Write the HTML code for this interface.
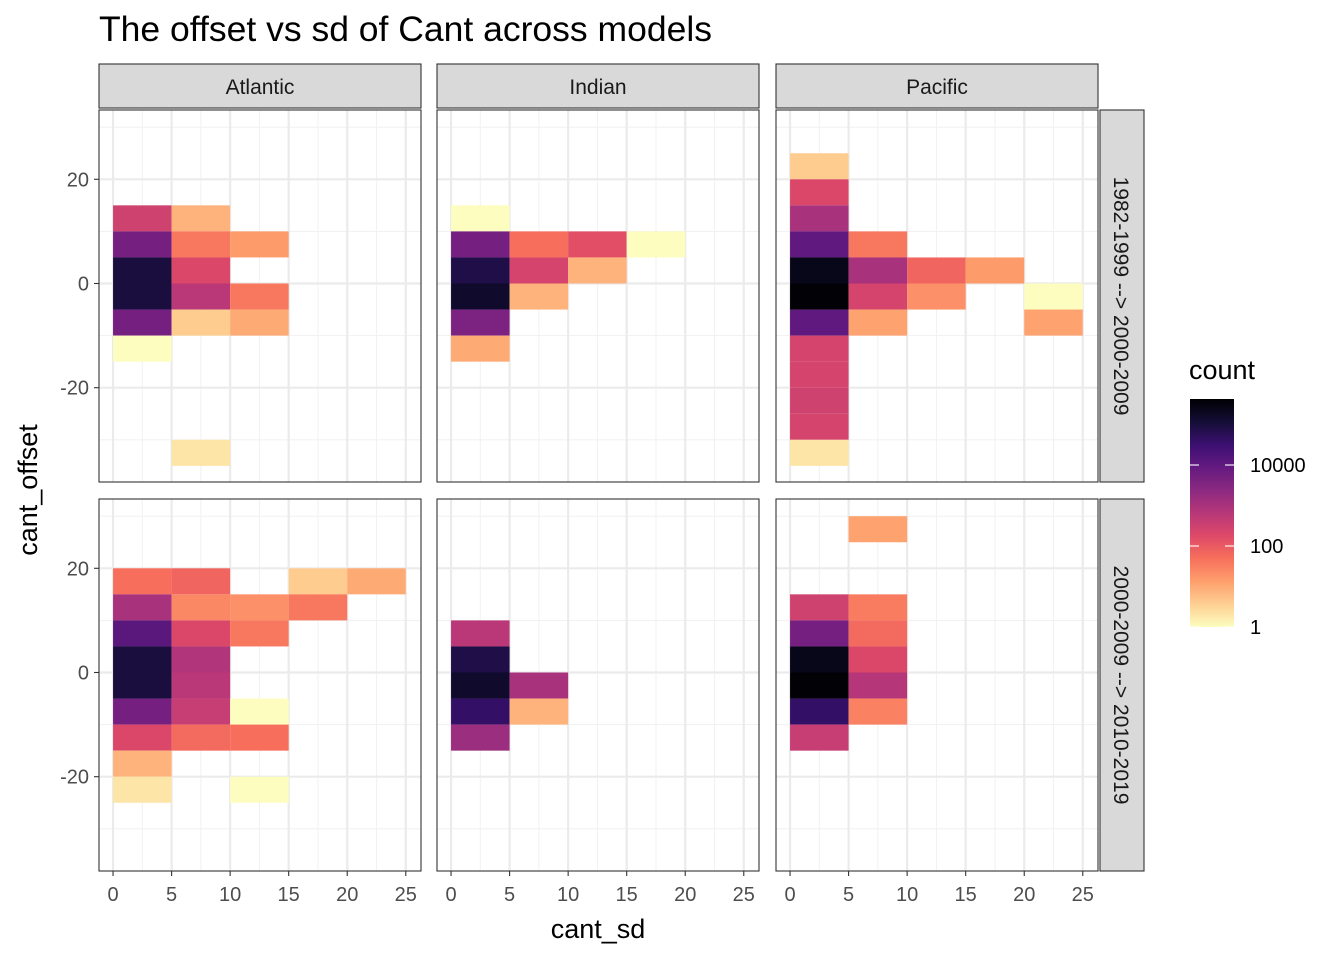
<!DOCTYPE html>
<html><head><meta charset="utf-8"><style>
body{margin:0;background:#fff;font-family:"Liberation Sans",sans-serif}
</style></head><body>
<svg id="c" width="1344" height="960" xmlns="http://www.w3.org/2000/svg" font-family="Liberation Sans, sans-serif"></svg>
<script>
const columns=["Atlantic","Indian","Pacific"];
const rowsLab=["1982-1999 --> 2000-2009","2000-2009 --> 2010-2019"];
const xTicks=[0,5,10,15,20,25];
const yTicks=[-20,0,20];
const legendTicks=[1,100,10000];
const tileCol=[0,0,0,0,0,0, 0,0,0,0,0, 0,0,0, 0,
 1,1,1,1,1,1, 1,1,1, 1,1, 1,
 2,2,2,2,2,2,2,2,2,2,2,2, 2,2,2,2, 2,2, 2, 2,2,
 0,0,0,0,0,0,0,0,0, 0,0,0,0,0,0,0, 0,0,0,0,0, 0,0, 0,
 1,1,1,1,1, 1,1,
 2,2,2,2,2,2, 2,2,2,2,2,2];
const tileRow=[0,0,0,0,0,0, 0,0,0,0,0, 0,0,0, 0,
 0,0,0,0,0,0, 0,0,0, 0,0, 0,
 0,0,0,0,0,0,0,0,0,0,0,0, 0,0,0,0, 0,0, 0, 0,0,
 1,1,1,1,1,1,1,1,1, 1,1,1,1,1,1,1, 1,1,1,1,1, 1,1, 1,
 1,1,1,1,1, 1,1,
 1,1,1,1,1,1, 1,1,1,1,1,1];
const tileSd=[0,0,0,0,0,0, 5,5,5,5,5, 10,10,10, 5,
 0,0,0,0,0,0, 5,5,5, 10,10, 15,
 0,0,0,0,0,0,0,0,0,0,0,0, 5,5,5,5, 10,10, 15, 20,20,
 0,0,0,0,0,0,0,0,0, 5,5,5,5,5,5,5, 10,10,10,10,10, 15,15, 20,
 0,0,0,0,0, 5,5,
 0,0,0,0,0,0, 5,5,5,5,5,5];
const tileOff=[10,5,0,-5,-10,-15, 10,5,0,-5,-10, 5,-5,-10, -35,
 10,5,0,-5,-10,-15, 5,0,-5, 5,0, 5,
 20,15,10,5,0,-5,-10,-15,-20,-25,-30,-35, 5,0,-5,-10, 0,-5, 0, -5,-10,
 15,10,5,0,-5,-10,-15,-20,-25, 15,10,5,0,-5,-10,-15, 10,5,-10,-15,-25, 15,10, 15,
 5,0,-5,-10,-15, -5,-10,
 10,5,0,-5,-10,-15, 25,10,5,0,-5,-10];
const tileCount=[300,5000,100000,100000,5000,1, 8,40,200,600,4, 15,40,10, 2,
 1,5000,80000,150000,4000,10, 50,250,8, 150,8, 1,
 4,200,1000,10000,250000,400000,10000,250,250,300,250,2, 40,1000,250,12, 70,20, 15, 1,12,
 50,1000,12000,100000,100000,5000,200,8,2, 70,25,200,800,600,400,60, 20,40,1,50,1, 4,40, 10,
 600,80000,150000,40000,1500, 1000,8,
 300,5000,250000,400000,40000,400, 12,35,60,200,700,30];
const maxLog=5.63;
const stops=["#000004","#140E36","#3B0F70","#641A80","#8C2981","#B73779","#DE4968","#F7705C","#FE9F6D","#FECF92","#FCFDBF"];
function hex(h){return [1,3,5].map(i=>parseInt(h.substr(i,2),16))}
function color(c){let t=1-Math.log10(c)/maxLog;t=Math.max(0,Math.min(1,t));const p=t*10,i=Math.min(9,Math.floor(p)),f=p-i;const a=hex(stops[i]),b=hex(stops[i+1]);return "rgb("+a.map((v,k)=>Math.round(v+(b[k]-v)*f)).join(",")+")"}
const svg=document.getElementById('c');const NS="http://www.w3.org/2000/svg";
function el(tag,attrs,parent,text){const e=document.createElementNS(NS,tag);for(const k in attrs)e.setAttribute(k,attrs[k]);if(text!==undefined)e.textContent=text;(parent||svg).appendChild(e);return e}
const colX=[99,437,776],pw=322,rowY=[110,499],ph=372;
const xMin=-1.2,xMax=26.3,yMin=-38.1,yMax=33.3;
function sx(c,v){return colX[c]+(v-xMin)/(xMax-xMin)*pw}
function sy(r,v){return rowY[r]+(yMax-v)/(yMax-yMin)*ph}
let t=el('text',{x:99,y:41,'font-size':35.5,fill:'#000'},svg,"The offset vs sd of Cant across models");

for(let c=0;c<3;c++)for(let r=0;r<2;r++){
 const g=el('g',{});
 el('rect',{x:colX[c],y:rowY[r],width:pw,height:ph,fill:'#fff'},g);
 for(let v=-30;v<=30;v+=10){if(v%20==0)continue;el('line',{x1:colX[c],x2:colX[c]+pw,y1:sy(r,v),y2:sy(r,v),stroke:'#F2F2F2','stroke-width':1.1},g)}
 for(let v=2.5;v<26;v+=5)el('line',{y1:rowY[r],y2:rowY[r]+ph,x1:sx(c,v),x2:sx(c,v),stroke:'#F2F2F2','stroke-width':1.1},g);
 yTicks.forEach(v=>el('line',{x1:colX[c],x2:colX[c]+pw,y1:sy(r,v),y2:sy(r,v),stroke:'#EBEBEB','stroke-width':2.2},g));
 xTicks.forEach(v=>el('line',{y1:rowY[r],y2:rowY[r]+ph,x1:sx(c,v),x2:sx(c,v),stroke:'#EBEBEB','stroke-width':2.2},g));
 for(let i=0;i<tileCount.length;i++){if(tileCol[i]!=c||tileRow[i]!=r)continue;
  const rc=el('rect',{x:sx(c,tileSd[i]),y:sy(r,tileOff[i]+5),width:sx(c,tileSd[i]+5)-sx(c,tileSd[i]),height:sy(r,tileOff[i])-sy(r,tileOff[i]+5),fill:color(tileCount[i])},g);
  }
 el('rect',{x:colX[c],y:rowY[r],width:pw,height:ph,fill:'none',stroke:'#333','stroke-width':1.1},g);
 if(c==0)yTicks.forEach(v=>{el('line',{x1:colX[c]-5,x2:colX[c],y1:sy(r,v),y2:sy(r,v),stroke:'#333','stroke-width':1.1});const tl=el('text',{x:colX[c]-10,y:sy(r,v)+7,'text-anchor':'end','font-size':20,fill:'#4D4D4D'},svg,v);});
 if(r==1)xTicks.forEach(v=>{el('line',{x1:sx(c,v),x2:sx(c,v),y1:rowY[r]+ph,y2:rowY[r]+ph+5,stroke:'#333','stroke-width':1.1});const tl=el('text',{x:sx(c,v),y:rowY[r]+ph+30,'text-anchor':'middle','font-size':20,fill:'#4D4D4D'},svg,v);});
}
columns.forEach((n,c)=>{const g=el('g',{});
 el('rect',{x:colX[c],y:64,width:pw,height:44,fill:'#D9D9D9',stroke:'#333','stroke-width':1.1},g);
 el('text',{x:colX[c]+pw/2,y:94,'text-anchor':'middle','font-size':21,fill:'#1A1A1A'},g,n);});
rowsLab.forEach((n,r)=>{const g=el('g',{});
 el('rect',{x:1100,y:rowY[r],width:44,height:ph,fill:'#D9D9D9',stroke:'#333','stroke-width':1.1},g);
 el('text',{x:0,y:0,transform:`translate(1114,${rowY[r]+ph/2}) rotate(90)`,'text-anchor':'middle','font-size':21,fill:'#1A1A1A'},g,n);});
t=el('text',{x:598,y:938,'text-anchor':'middle','font-size':27},svg,"cant_sd");
t=el('text',{x:0,y:0,transform:'translate(37,490) rotate(-90)','text-anchor':'middle','font-size':27},svg,"cant_offset");
const lg=el('g',{});
el('text',{x:1189,y:379,'font-size':27},lg,"count");
const defs=el('defs',{},svg);const gr=el('linearGradient',{id:'lgd',x1:0,y1:1,x2:0,y2:0},defs);
stops.slice().reverse().forEach((s,i)=>el('stop',{offset:i/10,'stop-color':s},gr));
const lTop=399,lBot=627;
el('rect',{x:1190,y:lTop,width:44,height:lBot-lTop,fill:'url(#lgd)'},lg);
legendTicks.forEach(v=>{const y=lBot-Math.log10(v)/maxLog*(lBot-lTop);
 el('line',{x1:1190,x2:1199,y1:y,y2:y,stroke:'#fff','stroke-width':1.1},lg);el('line',{x1:1225,x2:1234,y1:y,y2:y,stroke:'#fff','stroke-width':1.1},lg);
 el('text',{x:1250,y:y+7,'font-size':20,fill:'#000'},lg,v);});
</script>
</body></html>
